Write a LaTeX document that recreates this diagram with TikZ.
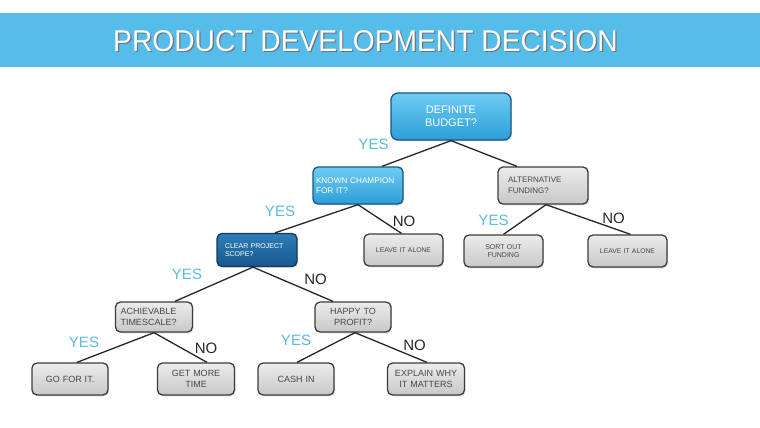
\documentclass[tikz,border=0pt]{standalone}
\usepackage{fontspec}
\setmainfont{Liberation Sans}
\usetikzlibrary{shadows}

\definecolor{bannerblue}{RGB}{86,188,234}
\definecolor{yesblue}{RGB}{90,186,228}
\definecolor{greytop}{RGB}{236,236,236}
\definecolor{greybot}{RGB}{200,200,200}
\definecolor{greyedge}{RGB}{60,60,60}
\definecolor{bluetop}{RGB}{110,204,244}
\definecolor{bluebot}{RGB}{44,158,216}
\definecolor{blueedge}{RGB}{28,86,124}
\definecolor{darktop}{RGB}{46,125,186}
\definecolor{darkbot}{RGB}{24,88,140}
\definecolor{darkedge}{RGB}{18,58,92}

\begin{document}
\begin{tikzpicture}[
    x=1pt, y=-1pt,
    box/.style={rectangle, rounded corners=5pt, draw=greyedge, line width=1.3pt,
        top color=greytop, bottom color=greybot, text=black!72,
        inner xsep=4pt, inner ysep=0pt, minimum height=32pt, align=center,
        drop shadow={shadow xshift=1.2pt, shadow yshift=-1.5pt, opacity=0.2}},
    bluebox/.style={box, draw=blueedge, top color=bluetop, bottom color=bluebot, text=white},
    darkbox/.style={box, draw=darkedge, top color=darktop, bottom color=darkbot, text=white},
    link/.style={line width=1.3pt, draw=black!85},
    yes/.style={text=yesblue, font=\fontsize{15}{15}\selectfont},
    no/.style={text=black!85, font=\fontsize{15}{15}\selectfont}
]
    \useasboundingbox (0,0) rectangle (760,428);

    % Banner
    \fill[bannerblue] (0,13) rectangle (760,67);
    \node[text=black!55, font=\fontsize{30}{30}\selectfont] (titleshade) at (366.7,42.2)
        {\scalebox{0.94}[1]{PRODUCT DEVELOPMENT DECISION}};
    \node[text=white, font=\fontsize{30}{30}\selectfont] (title) at (365.5,41)
        {\scalebox{0.94}[1]{PRODUCT DEVELOPMENT DECISION}};

    % Level 1
    \node[bluebox, minimum height=47pt, text width=112pt, rounded corners=7pt,
        font=\fontsize{11}{13}\selectfont] (budget) at (451,116.5) {DEFINITE\\BUDGET?};

    % Level 2
    \node[bluebox, minimum height=37pt, inner xsep=3pt, text width=84pt, align=left,
        font=\fontsize{8.2}{10.5}\selectfont] (champion) at (358,185.5) {KNOWN CHAMPION\\FOR IT?};
    \node[box, minimum height=37pt, inner xsep=10pt, text width=70pt, align=left,
        font=\fontsize{8}{10.5}\selectfont] (altfund) at (543,185.5) {ALTERNATIVE\\FUNDING?};

    % Level 3
    \node[darkbox, minimum height=33pt, inner xsep=8pt, text width=64pt, align=left,
        font=\fontsize{7}{8}\selectfont] (scope) at (257,250) {CLEAR PROJECT\\SCOPE?};
    \node[box, text width=71pt, font=\fontsize{6.8}{8}\selectfont] (leaveone) at (403.5,250) {LEAVE IT ALONE};
    \node[box, text width=71pt, font=\fontsize{7}{8.5}\selectfont] (sortout) at (503.5,251) {SORT OUT\\FUNDING};
    \node[box, text width=71pt, font=\fontsize{6.8}{8}\selectfont] (leavetwo) at (627.5,251) {LEAVE IT ALONE};

    % Level 4
    \node[box, minimum height=30pt, inner xsep=5pt, text width=67pt, align=left,
        font=\fontsize{9}{11.5}\selectfont] (timescale) at (154,317) {ACHIEVABLE\\TIMESCALE?};
    \node[box, minimum height=30pt, text width=68pt,
        font=\fontsize{9}{11.5}\selectfont] (happy) at (353,317) {HAPPY TO\\PROFIT?};

    % Level 5
    \node[box, text width=68pt, font=\fontsize{9}{11.5}\selectfont] (gofor) at (70,379) {GO FOR IT.};
    \node[box, text width=69pt, font=\fontsize{9}{11.5}\selectfont] (moretime) at (196,379) {GET MORE\\TIME};
    \node[box, text width=68pt, font=\fontsize{9}{11.5}\selectfont] (cashin) at (296,379) {CASH IN};
    \node[box, text width=69pt, font=\fontsize{9}{11.5}\selectfont] (explain) at (426,379) {EXPLAIN WHY\\IT MATTERS};

    % Links
    \draw[link] (budget.south) -- ([xshift=24pt]champion.north);
    \draw[link] (budget.south) -- ([xshift=-26pt]altfund.north);
    \draw[link] (champion.south) -- ([xshift=18pt]scope.north);
    \draw[link] (champion.south) -- ([xshift=-2pt]leaveone.north);
    \draw[link] ([xshift=3pt]altfund.south) -- (sortout.north);
    \draw[link] ([xshift=3pt]altfund.south) -- ([xshift=3pt]leavetwo.north);
    \draw[link] ([xshift=-4pt]scope.south) -- ([xshift=21pt]timescale.north);
    \draw[link] ([xshift=-4pt]scope.south) -- ([xshift=-20pt]happy.north);
    \draw[link] (timescale.south) -- ([xshift=7pt]gofor.north);
    \draw[link] (timescale.south) -- ([xshift=11pt]moretime.north);
    \draw[link] ([xshift=2pt]happy.south) -- ([xshift=1pt]cashin.north);
    \draw[link] ([xshift=2pt]happy.south) -- ([xshift=1pt]explain.north);

    % Answers
    \node[yes] (yesbudget) at (373.5,144.5) {YES};
    \node[yes] (yeschampion) at (280,211) {YES};
    \node[no] (nochampion) at (404,221) {NO};
    \node[yes] (yesaltfund) at (493.5,220.5) {YES};
    \node[no] (noaltfund) at (613.5,218.5) {NO};
    \node[yes] (yesscope) at (187,274) {YES};
    \node[no] (noscope) at (315.5,279.5) {NO};
    \node[yes] (yestimescale) at (84,342) {YES};
    \node[no] (notimescale) at (206,348.5) {NO};
    \node[yes] (yeshappy) at (296,340.5) {YES};
    \node[no] (nohappy) at (414.5,345.5) {NO};
\end{tikzpicture}
\end{document}
